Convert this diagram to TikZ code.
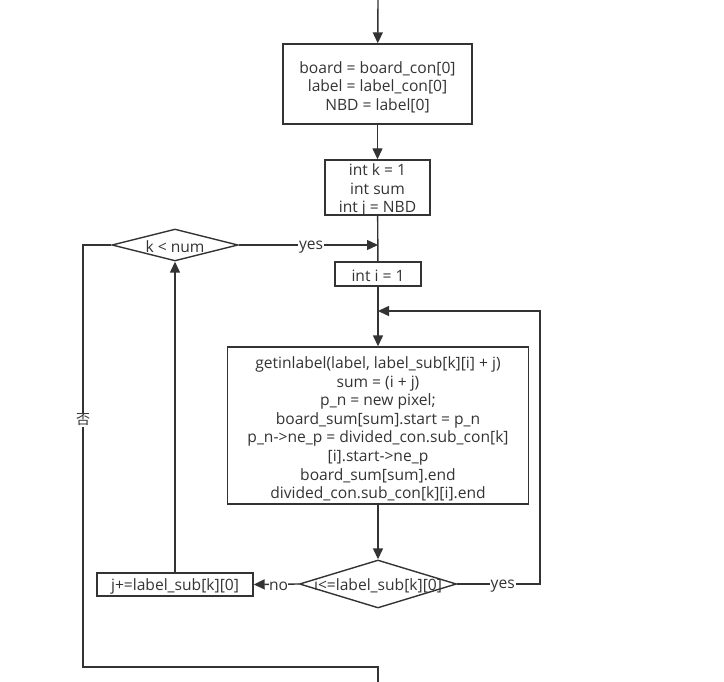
\documentclass[tikz,border=0pt]{standalone}
\usepackage{fontspec}
\setmainfont{Open Sans}
\newfontfamily\cjk{Noto Sans CJK SC}
\usetikzlibrary{shapes.geometric,arrows.meta}
\definecolor{ln}{HTML}{333333}
\begin{document}
\begin{tikzpicture}[x=1pt,y=-1pt,
  every node/.style={font=\fontsize{15.6}{18.6}\selectfont, text=ln},
  proc/.style={draw=ln, line width=1.4pt, rectangle, inner sep=0pt},
  ptext/.style={align=center, inner sep=0pt},
  diam/.style={draw=ln, line width=1.4pt, diamond, inner sep=0pt},
  conn/.style={draw=ln, line width=1.4pt},
  arr/.style={conn, -{Triangle[length=11pt,width=10pt]}},
  lab/.style={fill=white, inner sep=1pt, yshift=-2pt},
  dtext/.style={yshift=-1.5pt}]
\useasboundingbox (0,0) rectangle (724,682);
\node[proc, minimum width=189pt, minimum height=80pt] (b1) at (377.5,84) {};
\node[ptext] (b1t) at ([yshift=-3pt]b1.center) {board = board\_con[0]\\label = label\_con[0]\\NBD = label[0]};
\node[proc, minimum width=105pt, minimum height=55pt] (b2) at (377.5,187.5) {};
\node[ptext] (b2t) at ([yshift=-2.5pt]b2.center) {int k = 1\\int sum\\int j = NBD};
\node[diam, minimum width=126pt, minimum height=32pt] (d1) at (175,245) {};
\node[dtext] (d1t) at (175,245) {k < num};
\node[proc, minimum width=86pt, minimum height=24pt] (b3) at (378,274) {};
\node[ptext] (b3t) at ([yshift=-1.5pt]b3.center) {int i = 1};
\node[proc, minimum width=301pt, minimum height=157pt] (b4) at (378,425.5) {};
\node[ptext] (b4t) at ([yshift=-3.5pt]b4.center) {getinlabel(label, label\_sub[k][i] + j)\\sum = (i + j)\\p\_n = new pixel;\\board\_sum[sum].start = p\_n\\p\_n->ne\_p = divided\_con.sub\_con[k]\\{}[i].start->ne\_p\\board\_sum[sum].end\\divided\_con.sub\_con[k][i].end};
\node[diam, minimum width=157pt, minimum height=48pt] (d2) at (378,584) {};
\node[dtext] (d2t) at (378,584) {i<=label\_sub[k][0]};
\node[proc, minimum width=156pt, minimum height=23pt] (b5) at (175,584.5) {};
\node[ptext] (b5t) at ([yshift=-1.5pt]b5.center) {j+=label\_sub[k][0]};
\coordinate (top) at (378,0);
\coordinate (j1) at (378,245);
\coordinate (j2) at (378,311);
\coordinate (r1) at (540,584);
\coordinate (l1) at (83,667);
\coordinate (l2) at (378,667);
\coordinate (bot) at (378,682);
\draw[arr] (top) -- (b1);
\draw[arr] (b1) -- (b2);
\draw[conn] (b2) -- (b3);
\draw[arr] (d1.east) -- node[lab, pos=0.52] {yes} (j1);
\draw[arr] (b3) -- (b4);
\draw[arr] (b4) -- (d2);
\draw[arr] (d2.east) -- node[lab, pos=0.55] {yes} (r1) |- (j2);
\draw[arr] (d2.west) -- node[lab, pos=0.45, inner sep=0pt] {no} (b5.east);
\draw[arr] (b5.north) -- (d1.south);
\draw[conn] (d1.west) -| (l1) -- (l2) -- (bot);
\node[fill=white, inner sep=1pt, font=\cjk\fontsize{14}{16}\selectfont] (no2) at (83,420) {否};
\end{tikzpicture}
\end{document}
